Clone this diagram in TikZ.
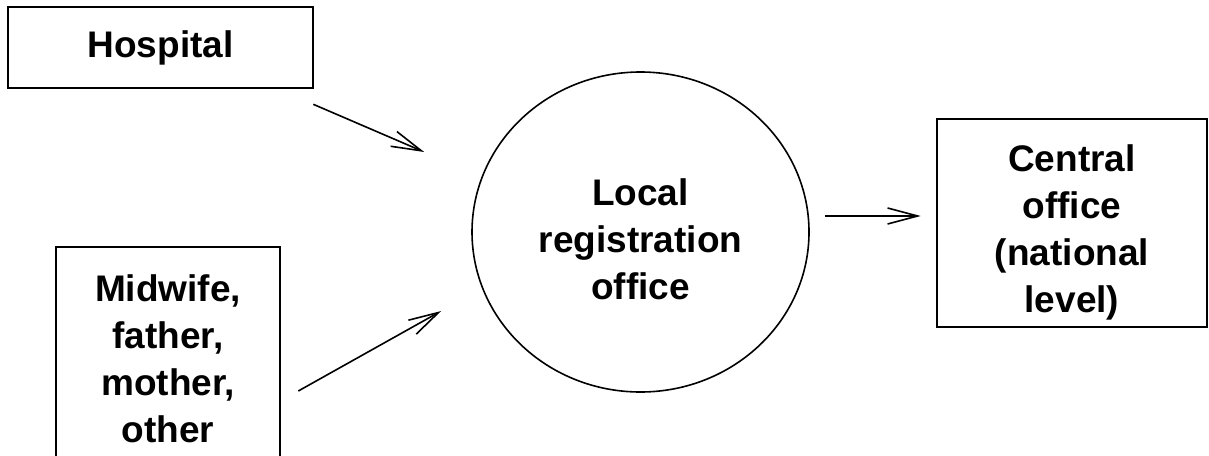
\documentclass[tikz,border=0pt]{standalone}
\usepackage{fontspec}
\setmainfont{Liberation Sans}
\usetikzlibrary{arrows.meta}
\usetikzlibrary{shapes.geometric}
\newcommand{\TopPad}[1]{\rule{0pt}{#1}}

\begin{document}
\begin{tikzpicture}[x=0.5pt, y=-0.5pt,
  box/.style={draw, rectangle, line width=1.3pt, inner sep=0pt, align=center,
              font=\fontsize{18.5}{23.5}\selectfont\bfseries},
  office/.style={draw, ellipse, line width=0.8pt, inner sep=0pt, align=center,
              minimum width=168.5pt, minimum height=160pt,
              font=\fontsize{18.5}{23.5}\selectfont\bfseries},
  arr/.style={-{Straight Barb[length=15pt,width=8pt]}, line width=0.8pt}]
%\draw [help lines] (0,0) grid (1209,455);
\useasboundingbox (0,0) rectangle (1209,455);
\clip (0,0) rectangle (1209,455);

\node[office]                                                  (reg)  at (640.5,232) {\TopPad{20.5pt}Local\\registration\\office};
\node[box, minimum width=152.5pt, minimum height=40.5pt]       (hosp) at (160.5,47.5) {Hospital};
\node[box, minimum width=112pt,   minimum height=111.5pt]      (midw) at (168,358.5)  {Midwife,\\father,\\mother,\\other};
\node[box, minimum width=135pt,   minimum height=104pt]        (cent) at (1072,223)   {\TopPad{22.5pt}Central\\office\\(national\\level)};

% Edges
\draw[arr] ([shift={(-1,15)}]hosp.south east) -- ([shift={(-47,-80)}]reg.west);
\draw[arr] ([shift={(17,32.5)}]midw.east)     -- ([shift={(-30,79)}]reg.west);
\draw[arr] ([shift={(15,-16)}]reg.east)       -- ([shift={(-15,-7)}]cent.west);

\end{tikzpicture}
\end{document}
